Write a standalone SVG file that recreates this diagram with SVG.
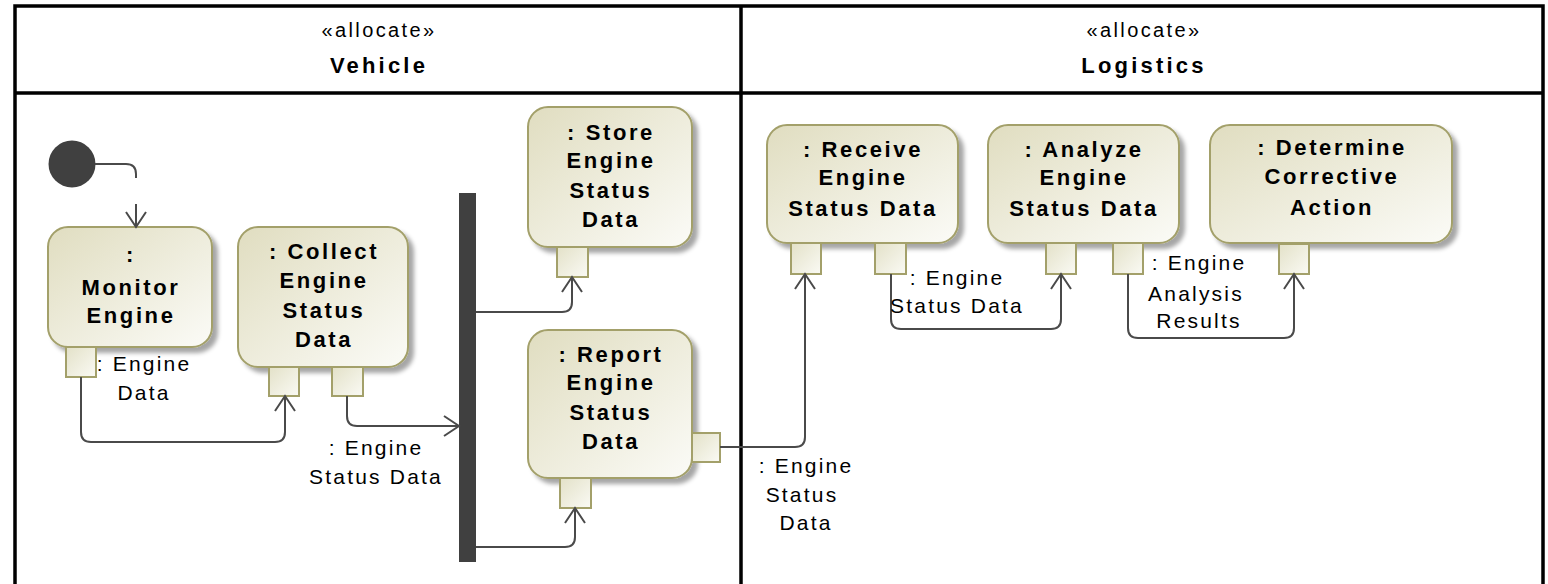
<svg xmlns="http://www.w3.org/2000/svg" width="1548" height="584" viewBox="0 0 1548 584">
  <style>
    .frame { fill: none; stroke: #000; stroke-width: 3.5; }
    .action { fill: url(#actFill); stroke: #a3a06a; stroke-width: 2; filter: url(#shadow); }
    .pin { fill: url(#pinFill); stroke: #a3a06a; stroke-width: 2; }
    .title { font-family: "Liberation Sans", Arial, sans-serif; font-size: 22px; font-weight: bold; fill: #000; text-anchor: middle; letter-spacing: 2.6px; }
    .hdr { font-family: "Liberation Sans", Arial, sans-serif; font-size: 20px; fill: #000; text-anchor: middle; letter-spacing: 2.4px; }
    .hdrb { font-family: "Liberation Sans", Arial, sans-serif; font-size: 22px; font-weight: bold; fill: #000; text-anchor: middle; letter-spacing: 3.2px; }
    .lbl { font-family: "Liberation Sans", Arial, sans-serif; font-size: 21px; fill: #000; text-anchor: middle; letter-spacing: 2.2px; }
    .flow { fill: none; stroke: #4a4a4a; stroke-width: 2; }
    .dark { fill: #404040; }
  </style>
  <defs>
    <linearGradient id="actFill" x1="0" y1="0" x2="1" y2="1">
      <stop offset="0" stop-color="#e0ddc0"/>
      <stop offset="1" stop-color="#fbfbf7"/>
    </linearGradient>
    <linearGradient id="pinFill" x1="0" y1="0" x2="1" y2="1">
      <stop offset="0" stop-color="#e3e1c8"/>
      <stop offset="1" stop-color="#fafaf4"/>
    </linearGradient>
    <filter id="shadow" x="-10%" y="-10%" width="130%" height="130%">
      <feDropShadow dx="5" dy="5" stdDeviation="2" flood-color="#000" flood-opacity="0.35"/>
    </filter>
    <marker id="open" markerUnits="userSpaceOnUse" viewBox="-18 -12 20 24" markerWidth="20" markerHeight="24" refX="0" refY="0" orient="auto">
      <path d="M-15,-10 L0,0 L-15,10" fill="none" stroke="#4a4a4a" stroke-width="2"/>
    </marker>
  </defs>

  <rect width="1548" height="584" fill="#fff"/>

  <!-- swimlane partitions -->
  <g id="partitions">
    <path class="frame" d="M15,584 V6 H1543 V584 M15,93 H1543 M741,6 V584"/>
    <text class="hdr" x="379" y="37">«allocate»</text>
    <text class="hdrb" x="379" y="73">Vehicle</text>
    <text class="hdr" x="1144" y="37">«allocate»</text>
    <text class="hdrb" x="1144" y="73">Logistics</text>
  </g>

  <!-- initial node -->
  <g id="initial">
    <circle class="dark" cx="72" cy="164" r="23.5"/>
  </g>

  <!-- fork -->
  <g id="fork">
    <rect class="dark" x="459" y="193" width="17" height="369"/>
  </g>

  <g id="monitor-engine">
    <rect class="action" x="48" y="227" width="164" height="120" rx="20"/>
    <text class="title" x="131" y="262">:</text>
    <text class="title" x="131" y="295">Monitor</text>
    <text class="title" x="131" y="323">Engine</text>
    <rect class="pin" x="66" y="347" width="30" height="30"/>
  </g>

  <g id="collect-engine-status-data">
    <rect class="action" x="238" y="227" width="170" height="140" rx="20"/>
    <text class="title" x="324" y="259">: Collect</text>
    <text class="title" x="324" y="288">Engine</text>
    <text class="title" x="324" y="318">Status</text>
    <text class="title" x="324" y="347">Data</text>
    <rect class="pin" x="269" y="367" width="30" height="29"/>
    <rect class="pin" x="332" y="367" width="31" height="29"/>
  </g>

  <g id="store-engine-status-data">
    <rect class="action" x="528" y="107" width="164" height="140" rx="20"/>
    <text class="title" x="611" y="140">: Store</text>
    <text class="title" x="611" y="168">Engine</text>
    <text class="title" x="611" y="198">Status</text>
    <text class="title" x="611" y="227">Data</text>
    <rect class="pin" x="557" y="247" width="31" height="30"/>
  </g>

  <g id="report-engine-status-data">
    <rect class="action" x="528" y="330" width="164" height="148" rx="20"/>
    <text class="title" x="611" y="362">: Report</text>
    <text class="title" x="611" y="390">Engine</text>
    <text class="title" x="611" y="420">Status</text>
    <text class="title" x="611" y="449">Data</text>
    <rect class="pin" x="692" y="433" width="28" height="29"/>
    <rect class="pin" x="560" y="478" width="31" height="30"/>
  </g>

  <g id="receive-engine-status-data">
    <rect class="action" x="767" y="125" width="191" height="118" rx="20"/>
    <text class="title" x="863" y="157">: Receive</text>
    <text class="title" x="863" y="185">Engine</text>
    <text class="title" x="863" y="216">Status Data</text>
    <rect class="pin" x="791" y="243" width="30" height="31"/>
    <rect class="pin" x="875" y="243" width="31" height="31"/>
  </g>

  <g id="analyze-engine-status-data">
    <rect class="action" x="988" y="125" width="191" height="118" rx="20"/>
    <text class="title" x="1084" y="157">: Analyze</text>
    <text class="title" x="1084" y="185">Engine</text>
    <text class="title" x="1084" y="216">Status Data</text>
    <rect class="pin" x="1046" y="243" width="30" height="31"/>
    <rect class="pin" x="1113" y="243" width="30" height="31"/>
  </g>

  <g id="determine-corrective-action">
    <rect class="action" x="1210" y="125" width="242" height="118" rx="20"/>
    <text class="title" x="1332" y="155">: Determine</text>
    <text class="title" x="1332" y="184">Corrective</text>
    <text class="title" x="1332" y="215">Action</text>
    <rect class="pin" x="1279" y="244" width="30" height="30"/>
  </g>

  <!-- object and control flows -->
  <g id="connectors">
    <path class="flow" d="M95,164 H126 Q136,164 136,174 V178"/>
    <path class="flow" d="M136,204 V227" marker-end="url(#open)"/>
    <path class="flow" d="M81,377 V432 Q81,442 91,442 H275 Q285,442 285,432 V396" marker-end="url(#open)"/>
    <path class="flow" d="M347,396 V416 Q347,426 357,426 H459" marker-end="url(#open)"/>
    <path class="flow" d="M476,312 H562 Q572,312 572,302 V277" marker-end="url(#open)"/>
    <path class="flow" d="M476,547 H565 Q575,547 575,537 V508" marker-end="url(#open)"/>
    <path class="flow" d="M720,447 H795 Q805,447 805,437 V274" marker-end="url(#open)"/>
    <path class="flow" d="M891,274 V319 Q891,329 901,329 H1051 Q1061,329 1061,319 V274" marker-end="url(#open)"/>
    <path class="flow" d="M1128,274 V328 Q1128,338 1138,338 H1284 Q1294,338 1294,328 V274" marker-end="url(#open)"/>
  </g>

  <!-- pin type labels -->
  <g id="pin-labels">
    <text class="lbl" x="144" y="371">: Engine</text>
    <text class="lbl" x="144" y="400">Data</text>
    <text class="lbl" x="376" y="455">: Engine</text>
    <text class="lbl" x="376" y="484">Status Data</text>
    <text class="lbl" x="806" y="473">: Engine</text>
    <text class="lbl" x="802" y="502">Status</text>
    <text class="lbl" x="806" y="530">Data</text>
    <text class="lbl" x="957" y="285">: Engine</text>
    <text class="lbl" x="957" y="313">Status Data</text>
    <text class="lbl" x="1199" y="270">: Engine</text>
    <text class="lbl" x="1196" y="301">Analysis</text>
    <text class="lbl" x="1199" y="328">Results</text>
  </g>
</svg>
